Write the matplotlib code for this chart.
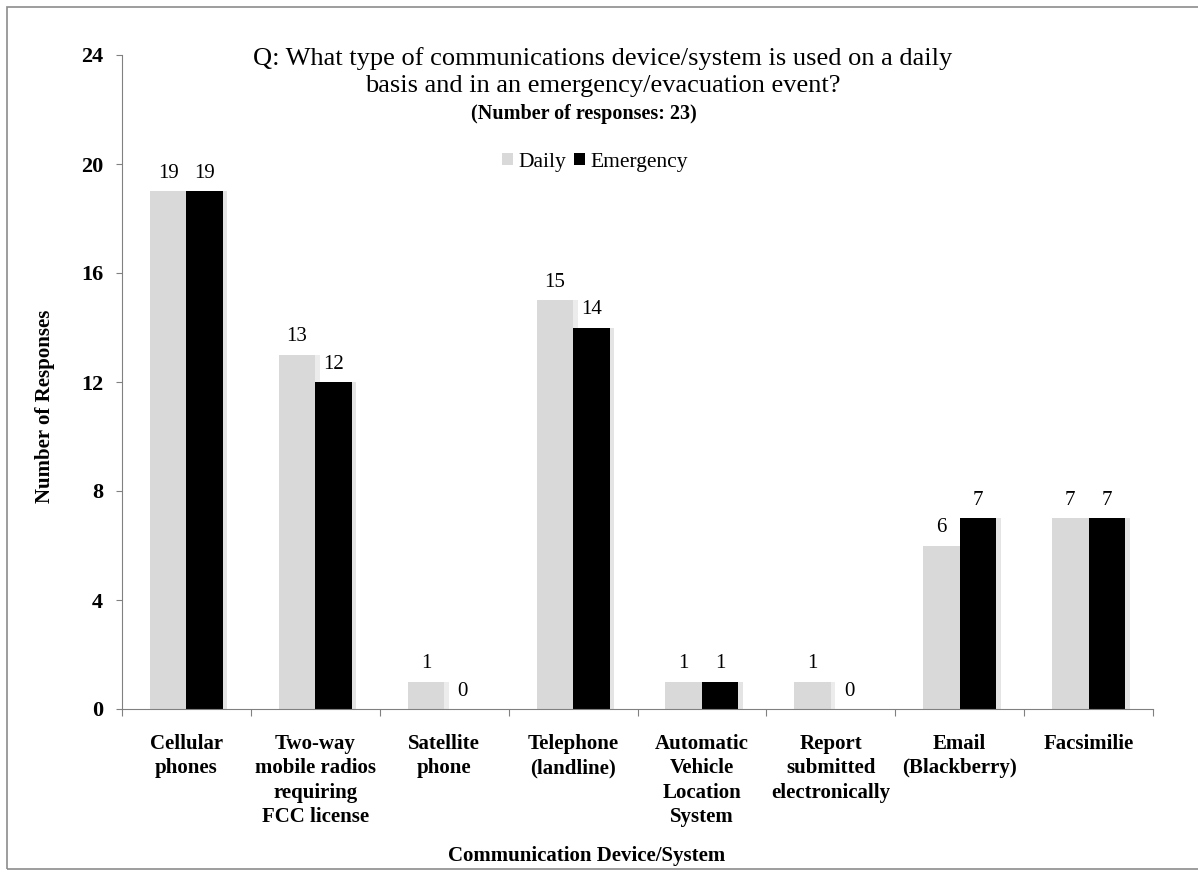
import numpy as np
import matplotlib.pyplot as plt
from matplotlib.patches import Rectangle

plt.rcParams['font.family'] = ['Liberation Serif', 'DejaVu Serif']

# Survey responses per device
categories = ['Cellular\nphones', 'Two-way\nmobile radios\nrequiring\nFCC license',
              'Satellite\nphone', 'Telephone\n(landline)', 'Automatic\nVehicle\nLocation\nSystem',
              'Report\nsubmitted\nelectronically', 'Email\n(Blackberry)', 'Facsimilie']
daily = [19, 13, 1, 15, 1, 1, 6, 7]
emergency = [19, 12, 0, 14, 1, 0, 7, 7]
yticks = [0, 4, 8, 12, 16, 20, 24]

W, H = 1198, 873
fig = plt.figure(figsize=(W / 100, H / 100), dpi=100)
ax = fig.add_axes([122 / W, (H - 709) / H, (1153 - 122) / W, (709 - 55) / H])

x = np.arange(len(categories))
bw = 0.283
shadow = 4.5 / 129  # a few pixels of drop shadow

# faint drop shadows behind the bars
ax.bar(x - bw / 2 + shadow, daily, bw, color='#ececec', zorder=1)
ax.bar(x + bw / 2 + shadow, emergency, bw, color='#e4e4e4', zorder=1)

b1 = ax.bar(x - bw / 2, daily, bw, color='#d9d9d9', label='Daily', zorder=2)
b2 = ax.bar(x + bw / 2, emergency, bw, color='black', label='Emergency', zorder=2)

for bars in (b1, b2):
    for r in bars:
        h = r.get_height()
        ax.annotate(f'{h:g}', (r.get_x() + r.get_width() / 2, h), xytext=(0, 6),
                    textcoords='offset points', ha='center', va='bottom', fontsize=15)

ax.set_xlim(-0.5, len(categories) - 0.5)
ax.set_ylim(0, 24)
ax.set_yticks(yticks)
ax.set_yticklabels([str(t) for t in yticks], fontsize=16, fontweight='bold')
ax.tick_params(axis='y', length=4.5, width=0.8, color='#808080', pad=9)

# category labels sit between the boundary ticks
ax.set_xticks(np.arange(len(categories) + 1) - 0.5)
ax.set_xticklabels([])
ax.tick_params(axis='x', length=5, width=0.8, color='#808080', direction='out')
for i, c in enumerate(categories):
    ax.text(i, -0.9, c, ha='center', va='top', fontsize=15, fontweight='bold',
            linespacing=1.3, transform=ax.transData)

for s in ('top', 'right'):
    ax.spines[s].set_visible(False)
for s in ('left', 'bottom'):
    ax.spines[s].set_color('#808080')
    ax.spines[s].set_linewidth(0.8)

fig.text(45 / W, 1 - 406 / H, 'Number of Responses', rotation=90, ha='center', va='center',
         fontsize=15, fontweight='bold')
fig.text(587 / W, 1 - 856 / H, 'Communication Device/System', ha='center', va='center',
         fontsize=15, fontweight='bold')

fig.text(603 / W, 1 - 72 / H,
         'Q: What type of communications device/system is used on a daily\n'
         'basis and in an emergency/evacuation event?',
         ha='center', va='center', fontsize=19, linespacing=1.3)
fig.text(584 / W, 1 - 114 / H, '(Number of responses: 23)', ha='center', va='center',
         fontsize=14.5, fontweight='bold')

fig.legend(handles=[b1, b2], loc='center', bbox_to_anchor=(595 / W, 1 - 162 / H), ncol=2,
           frameon=False, fontsize=15.5, handlelength=0.5, handleheight=0.5,
           handletextpad=0.25, columnspacing=0.35, borderpad=0)

# outer border
fig.patches.append(Rectangle((7 / W, 4 / H), 1.2, 1 - 11 / H, transform=fig.transFigure,
                             fill=False, edgecolor='#8c8c8c', linewidth=1.2))

fig.savefig('out.png', dpi=100)
